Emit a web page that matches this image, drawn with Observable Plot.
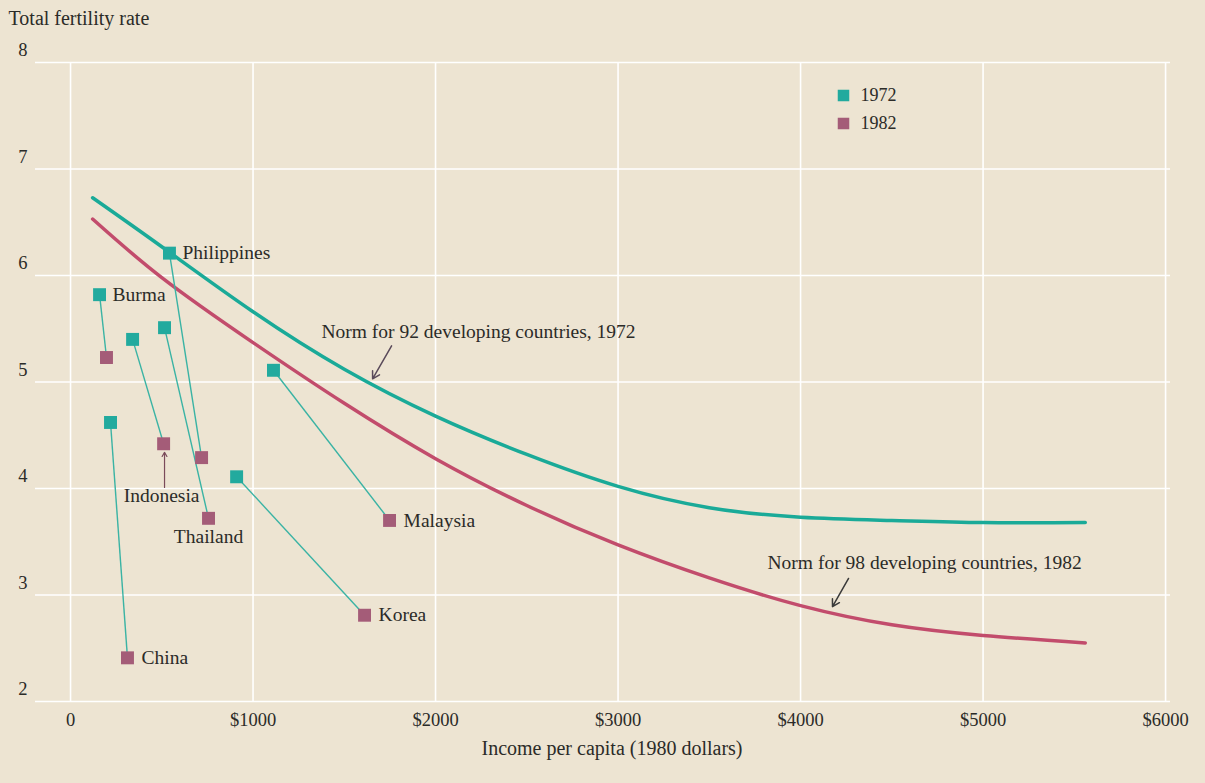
<!DOCTYPE html>
<html><head><meta charset="utf-8">
<script src="https://cdn.jsdelivr.net/npm/d3@7"></script>
<script src="https://cdn.jsdelivr.net/npm/@observablehq/plot@0.6"></script>
<style>
html,body{margin:0;padding:0;background:#ede4d2;}
#chart{width:1205px;height:783px;}
</style></head>
<body><div id="chart"></div>
<script>
// ---- data ----
const countries  = ["Burma","Indonesia","Thailand","Philippines","China","Korea","Malaysia"];
const income1972 = [159, 340, 515, 542, 219, 910, 1112];
const tfr1972    = [5.82, 5.40, 5.51, 6.21, 4.62, 4.11, 5.11];
const income1982 = [197, 510, 756, 718, 312, 1611, 1748];
const tfr1982    = [5.23, 4.42, 3.72, 4.29, 2.41, 2.81, 3.70];
const normIncome = [121, 500, 1000, 1500, 2000, 2500, 3000, 3500, 4000, 4500, 5000, 5560];
const norm1972   = [6.73, 6.27, 5.66, 5.12, 4.68, 4.32, 4.02, 3.82, 3.73, 3.70, 3.68, 3.68];
const norm1982   = [6.53, 5.98, 5.37, 4.80, 4.28, 3.84, 3.47, 3.16, 2.90, 2.72, 2.62, 2.55];
const xTicks = [0, 1000, 2000, 3000, 4000, 5000, 6000];
const yTicks = [2, 3, 4, 5, 6, 7, 8];
const years = ["1972", "1982"];

const pairs = countries.map((c, i) => ({country: c, x1: income1972[i], y1: tfr1972[i], x2: income1982[i], y2: tfr1982[i]}));
const pts72 = countries.map((c, i) => ({country: c, income: income1972[i], tfr: tfr1972[i]}));
const pts82 = countries.map((c, i) => ({country: c, income: income1982[i], tfr: tfr1982[i]}));
const curve72 = normIncome.map((x, i) => ({income: x, tfr: norm1972[i]}));
const curve82 = normIncome.map((x, i) => ({income: x, tfr: norm1982[i]}));

const C72 = "#22aa9e", C82 = "#a45c78", L72 = "#1aaa98", L82 = "#c24c6c", TXT = "#2b2b28";
const FS = 19.5;
const pick = (arr, names) => arr.filter(d => names.includes(d.country));

const chart = Plot.plot({
  width: 1205, height: 783,
  marginLeft: 35, marginRight: 35, marginTop: 62, marginBottom: 82,
  x: {domain: [-192, 6027], label: null},
  y: {domain: [2, 8], label: null},
  style: {background: "transparent", fontFamily: "'Liberation Serif', serif", fontSize: "18px", color: TXT},
  marks: [
    Plot.ruleY(yTicks, {stroke: "white", strokeWidth: 1.6}),
    Plot.ruleX(xTicks, {y1: 2, y2: 8, stroke: "white", strokeWidth: 1.6}),
    Plot.axisY(yTicks, {tickSize: 0, tickPadding: 8, dy: -12, fontSize: 18.5, label: null, tickFormat: d => String(d)}),
    Plot.axisX(xTicks, {tickSize: 0, tickPadding: 11, fontSize: 18.5, label: null, tickFormat: d => d === 0 ? "0" : "$" + d}),
    Plot.text(["Total fertility rate"], {frameAnchor: "top-left", dx: -27, dy: -44, textAnchor: "start", lineAnchor: "middle", fontSize: 20, fill: TXT}),
    Plot.text(["Income per capita (1980 dollars)"], {frameAnchor: "bottom", dx: 9, dy: 47, lineAnchor: "middle", fontSize: 20, fill: TXT}),
    // norm curves
    Plot.line(curve72, {x: "income", y: "tfr", stroke: L72, strokeWidth: 3.5, curve: "natural"}),
    Plot.line(curve82, {x: "income", y: "tfr", stroke: L82, strokeWidth: 3.5, curve: "natural"}),
    // connectors
    Plot.link(pairs, {x1: "x1", y1: "y1", x2: "x2", y2: "y2", stroke: "#3ab3a4", strokeWidth: 1.4}),
    // points
    Plot.dot(pts72, {x: "income", y: "tfr", symbol: "square", r: 7.3, fill: C72}),
    Plot.dot(pts82, {x: "income", y: "tfr", symbol: "square", r: 7.3, fill: C82}),
    // country labels
    Plot.text(pick(pts72, ["Burma", "Philippines"]), {x: "income", y: "tfr", text: "country", dx: 13, textAnchor: "start", fontSize: FS, fill: TXT}),
    Plot.text(pick(pts82, ["Malaysia", "Korea", "China"]), {x: "income", y: "tfr", text: "country", dx: 14, textAnchor: "start", fontSize: FS, fill: TXT}),
    Plot.text(pick(pts82, ["Thailand"]), {x: "income", y: "tfr", text: "country", dy: 18, fontSize: FS, fill: TXT}),
    Plot.text(pick(pts82, ["Indonesia"]), {x: "income", y: "tfr", text: "country", dy: 52, dx: -2, fontSize: FS, fill: TXT}),
    // annotations
    Plot.text(["Norm for 92 developing countries, 1972"], {x: 1375, y: 5.47, textAnchor: "start", fontSize: FS, fill: TXT}),
    Plot.arrow([0], {x1: 1759, y1: 5.34, x2: 1655, y2: 5.03, stroke: "#5a4a5a", strokeWidth: 1.5, headLength: 8}),
    Plot.text(["Norm for 98 developing countries, 1982"], {x: 3819, y: 3.30, textAnchor: "start", fontSize: FS, fill: TXT}),
    Plot.arrow([0], {x1: 4263, y1: 3.155, x2: 4175, y2: 2.89, stroke: "#3a3a3a", strokeWidth: 1.5, headLength: 8}),
    Plot.arrow([0], {x1: 515, y1: 4.01, x2: 515, y2: 4.34, stroke: "#7a4a5a", strokeWidth: 1.2, headLength: 6}),
    // legend
    Plot.dot([years[0]], {frameAnchor: "top-left", dx: 808, dy: 33, symbol: "square", r: 6.5, fill: C72}),
    Plot.dot([years[1]], {frameAnchor: "top-left", dx: 808, dy: 61, symbol: "square", r: 6.5, fill: C82}),
    Plot.text([years[0]], {frameAnchor: "top-left", dx: 825, dy: 33, textAnchor: "start", lineAnchor: "middle", fontSize: 18, fill: TXT}),
    Plot.text([years[1]], {frameAnchor: "top-left", dx: 825, dy: 61, textAnchor: "start", lineAnchor: "middle", fontSize: 18, fill: TXT})
  ]
});
document.getElementById("chart").appendChild(chart);
</script>
</body></html>
